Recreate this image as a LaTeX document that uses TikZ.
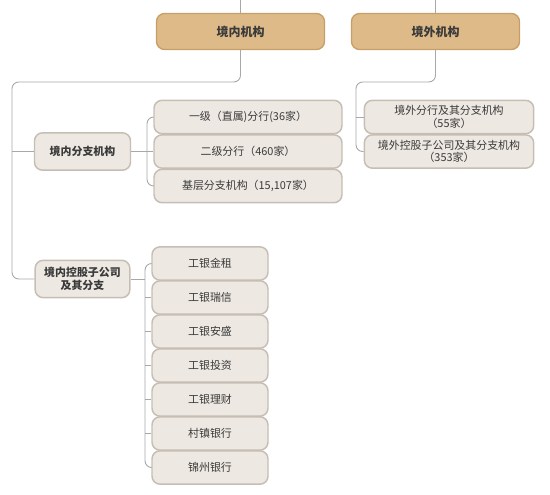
\documentclass[tikz,border=0pt]{standalone}
\usepackage{fontspec}
\usepackage{xcolor}
\usetikzlibrary{positioning, calc}
\newfontfamily\cjk{Noto Sans CJK SC}
\definecolor{tanfill}{HTML}{DDBA88}
\definecolor{tandraw}{HTML}{C79F66}
\definecolor{boxfill}{HTML}{EDE8E2}
\definecolor{boxdraw}{HTML}{C6BEB4}
\definecolor{linkgray}{HTML}{A8A8A8}
\definecolor{textgray}{HTML}{3A3A3A}

\begin{document}
\begin{tikzpicture}[
		x=0.75pt, y=-0.75pt,
		topbox/.style={rectangle, rounded corners=6pt, draw=tandraw, fill=tanfill, line width=1pt,
			minimum width=126pt, minimum height=27pt, inner sep=1pt, font=\cjk\bfseries\fontsize{9}{10}\selectfont, text=textgray},
		midbox/.style={rectangle, rounded corners=6pt, draw=boxdraw, fill=boxfill, line width=1.1pt,
			minimum width=72pt, minimum height=28pt, inner sep=1pt, align=center, font=\cjk\bfseries\fontsize{8.2}{10}\selectfont, text=textgray},
		leafbox/.style={rectangle, rounded corners=6pt, draw=boxdraw, fill=boxfill, line width=1.1pt,
			minimum height=25pt, inner sep=1pt, align=center, font=\cjk\fontsize{8.2}{9.5}\selectfont, text=textgray},
		link/.style={draw=linkgray, line width=0.7pt, rounded corners=5pt}
		]
	
		\useasboundingbox (0,0) rectangle (550,494);
	
		% --- top ---
		\node[topbox] (jn) at (240.5, 31.5) {境内机构};
		\node[topbox] (jw) at (435.5, 31.5) {境外机构};
		\coordinate (topL) at (240.5, 0);
		\coordinate (topR) at (435.5, 0);
		\coordinate (turnL) at (12, 82);
		\coordinate (turnR) at (356, 82);
	
		% --- domestic branches ---
		\node[midbox] (fz) at (82.5, 151.5) {境内分支机构};
		\node[leafbox, minimum width=141pt] (yj) at (248, 117) {一级（直属)分行(36家）};
		\node[leafbox, minimum width=141pt] (ej) at (248, 151.5) {二级分行（460家）};
		\node[leafbox, minimum width=141pt] (jc) at (248, 186) {基层分支机构（15,107家）};
		\coordinate (br1) at (147, 151.5);
	
		% --- overseas ---
		\node[leafbox, minimum width=127pt] (hw1) at (449, 117) {境外分行及其分支机构\\（55家）};
		\node[leafbox, minimum width=127pt] (hw2) at (449, 151.5) {境外控股子公司及其分支机构\\（353家）};
	
		% --- domestic subsidiaries ---
		\node[midbox, minimum width=71pt] (kg) at (82.5, 279) {境内控股子公司\\及其分支};
		\node[leafbox, minimum width=87pt] (g1) at (210, 263.5) {工银金租};
		\node[leafbox, minimum width=87pt] (g2) at (210, 297.5) {工银瑞信};
		\node[leafbox, minimum width=87pt] (g3) at (210, 331.5) {工银安盛};
		\node[leafbox, minimum width=87pt] (g4) at (210, 365.5) {工银投资};
		\node[leafbox, minimum width=87pt] (g5) at (210, 399.5) {工银理财};
		\node[leafbox, minimum width=87pt] (g6) at (210, 433.5) {村镇银行};
		\node[leafbox, minimum width=87pt] (g7) at (210, 467.5) {锦州银行};
		\coordinate (br2) at (145, 279);
	
		% --- connectors ---
		\draw[link] (topL) -- (jn.north);
		\draw[link] (topR) -- (jw.north);
		\draw[link] (jn.south) |- (turnL) |- (kg.west);
		\draw[link] (fz.west -| turnL) -- (fz.west);
		\draw[link] (yj.west) -| (br1) |- (jc.west);
		\draw[link] (fz.east) -- (ej.west);
		\draw[link] (jw.south) |- (turnR) |- (hw2.west);
		\draw[link] (hw1.west -| turnR) -- (hw1.west);
		\draw[link] (g1.west) -| (br2) |- (g7.west);
		\draw[link] (kg.east) -- (br2);
		\draw[link] (g2.west -| br2) -- (g2.west);
		\draw[link] (g3.west -| br2) -- (g3.west);
		\draw[link] (g4.west -| br2) -- (g4.west);
		\draw[link] (g5.west -| br2) -- (g5.west);
		\draw[link] (g6.west -| br2) -- (g6.west);
	
	\end{tikzpicture}
\end{document}
